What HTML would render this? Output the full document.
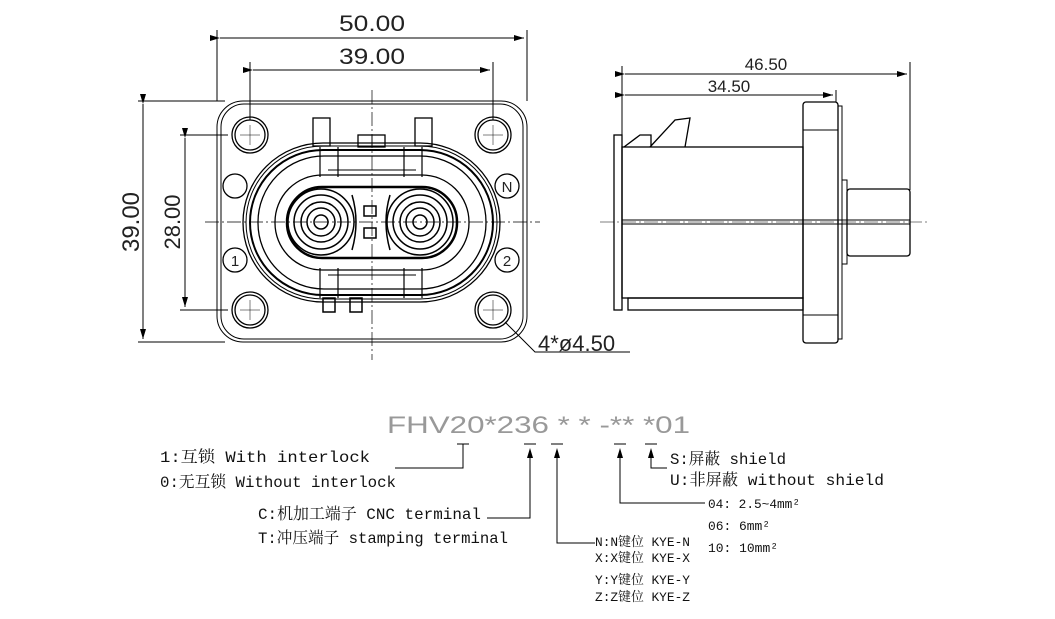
<!DOCTYPE html>
<html><head><meta charset="utf-8"><style>
html,body{margin:0;padding:0;background:#fff;}
svg{display:block}
.t{font-family:"Liberation Mono","Noto Serif CJK SC",monospace;fill:#111}
.d{font-family:"Liberation Sans",sans-serif;fill:#222}
</style></head><body>
<svg width="1055" height="619" viewBox="0 0 1055 619" xmlns="http://www.w3.org/2000/svg">
<defs>
<marker id="a" markerWidth="10" markerHeight="6" refX="10" refY="3" orient="auto" markerUnits="userSpaceOnUse"><path d="M0,0 L10,3 L0,6z" fill="#000"/></marker>
</defs>
<g stroke="#000" fill="none" stroke-width="1">
<line x1="217" y1="30" x2="217" y2="101"/><line x1="527" y1="30" x2="527" y2="101"/>
<line x1="220" y1="38" x2="524" y2="38" marker-start="url(#a)" marker-end="url(#a)"/>
<line x1="250" y1="62" x2="250" y2="120"/><line x1="493" y1="62" x2="493" y2="120"/>
<line x1="253" y1="70" x2="490" y2="70" marker-start="url(#a)" marker-end="url(#a)"/>
<line x1="138" y1="101" x2="225" y2="101"/><line x1="138" y1="342" x2="225" y2="342"/>
<line x1="143" y1="104" x2="143" y2="339" marker-start="url(#a)" marker-end="url(#a)"/>
<line x1="180" y1="135" x2="228" y2="135"/><line x1="180" y1="310" x2="228" y2="310"/>
<line x1="185" y1="138" x2="185" y2="307" marker-start="url(#a)" marker-end="url(#a)"/>
<rect x="217" y="101" width="310" height="241" rx="26"/>
<rect x="221" y="104" width="302" height="235" rx="23"/>
<line x1="205" y1="222" x2="540" y2="222" stroke-dasharray="14,3,2,3" stroke-width="0.7"/>
<line x1="372" y1="90" x2="372" y2="360" stroke-dasharray="14,3,2,3" stroke-width="0.7"/>
<g stroke-width="1.3">
<circle cx="250" cy="135" r="18"/><circle cx="250" cy="135" r="15"/>
<circle cx="493" cy="135" r="18"/><circle cx="493" cy="135" r="15"/>
<circle cx="250" cy="310" r="18"/><circle cx="250" cy="310" r="15"/>
<circle cx="493" cy="310" r="18"/><circle cx="493" cy="310" r="15"/>
</g>
<g stroke-width="0.5"><path d="M240 135h20M250 125v20M483 135h20M493 125v20M240 310h20M250 300v20M483 310h20M493 300v20"/></g>
<circle cx="235" cy="186" r="12" stroke-width="1.3"/>
<circle cx="507" cy="186" r="12" stroke-width="1.3"/>
<circle cx="235" cy="260" r="12" stroke-width="1.3"/>
<circle cx="507" cy="260" r="12" stroke-width="1.3"/>
<rect x="313" y="118" width="17" height="28" stroke-width="1.3"/>
<rect x="415" y="118" width="17" height="28" stroke-width="1.3"/>
<rect x="358" y="135" width="27" height="12" stroke-width="1.3"/>
<line x1="372" y1="135" x2="372" y2="147"/>
<rect x="323" y="298" width="12" height="14" stroke-width="1.5"/>
<rect x="350" y="298" width="12" height="14" stroke-width="1.5"/>
<rect x="243" y="143" width="257" height="159" rx="80" stroke-width="1.3"/>
<rect x="246" y="146" width="251" height="153" rx="77"/>
<rect x="250" y="150" width="243" height="145" rx="73" stroke-width="2"/>
<rect x="258" y="156" width="228" height="133" rx="66" stroke-width="1.3"/>
<rect x="275" y="175" width="194" height="95" rx="47" stroke-width="1.3"/>
<rect x="287" y="187" width="170" height="71" rx="35" stroke-width="2.5"/>
<path d="M320 147v30M338 147v30M404 147v30M422 147v30M320 268v30M338 268v30M404 268v30M422 268v30" stroke-width="1.2"/>
<path d="M320 150h102M320 295h102M328 170h88M328 275h88"/>
<g stroke-width="1.5">
<circle cx="321" cy="222" r="33"/><circle cx="321" cy="222" r="27"/><circle cx="321" cy="222" r="20"/><circle cx="321" cy="222" r="14"/><circle cx="321" cy="222" r="7"/>
<circle cx="420" cy="222" r="33"/><circle cx="420" cy="222" r="27"/><circle cx="420" cy="222" r="20"/><circle cx="420" cy="222" r="14"/><circle cx="420" cy="222" r="7"/>
</g>
<path d="M352 195 q8 27 0 55 M390 195 q-8 27 0 55" stroke-width="1.5"/>
<rect x="364" y="206" width="12" height="10" stroke-width="1.5"/>
<rect x="364" y="228" width="12" height="10" stroke-width="1.5"/>
<path d="M505 322 L535 352 L630 352"/>
<line x1="622" y1="66" x2="622" y2="140"/><line x1="910" y1="62" x2="910" y2="190"/>
<line x1="625" y1="74" x2="907" y2="74" marker-start="url(#a)" marker-end="url(#a)"/>
<line x1="836" y1="90" x2="836" y2="102"/>
<line x1="625" y1="95" x2="833" y2="95" marker-start="url(#a)" marker-end="url(#a)"/>
<rect x="614" y="135" width="8" height="175" stroke-width="1.3"/>
<rect x="622" y="147" width="181" height="151" stroke-width="1.3"/>
<rect x="628" y="298" width="175" height="12" stroke-width="1.3"/>
<rect x="803" y="102" width="35" height="241" rx="3" stroke-width="1.3"/>
<line x1="803" y1="130" x2="838" y2="130"/><line x1="803" y1="315" x2="838" y2="315"/>
<rect x="838" y="106" width="4" height="233"/>
<rect x="842" y="180" width="5" height="84"/>
<rect x="847" y="189" width="63" height="67" rx="3" stroke-width="1.3"/>
<path d="M622 220h288M622 224h288" stroke-width="1"/>
<line x1="600" y1="222" x2="930" y2="222" stroke-dasharray="14,3,2,3" stroke-width="0.6"/>
<path d="M624 147 L640 135 L651 135 L651 147 M650 147 L675 120 L690 118 L685 147" stroke-width="1.3"/>
<path d="M457 444h12M463 444v24H395"/>
<path d="M524 444h12M551 444h12M614 444h12M645 444h12"/>
<path d="M530 450v68H487"/>
<path d="M557 450v93h38"/>
<path d="M620 450v53h85"/>
<path d="M651 450v18h16"/>
</g>
<g fill="#000">
<path d="M527 458l3-10 3 10z"/><path d="M554 458l3-10 3 10z"/><path d="M617 458l3-10 3 10z"/><path d="M648 458l3-10 3 10z"/>
</g>
<g class="d" font-size="22">
<text x="372" y="31" text-anchor="middle" textLength="66" lengthAdjust="spacingAndGlyphs">50.00</text>
<text x="372" y="64" text-anchor="middle" textLength="66" lengthAdjust="spacingAndGlyphs">39.00</text>
<text transform="translate(139,222) rotate(-90)" text-anchor="middle" font-size="24">39.00</text>
<text transform="translate(180,222) rotate(-90)" text-anchor="middle">28.00</text>
<text x="538" y="351">4*ø4.50</text>
</g>
<g class="d" font-size="17" fill="#444">
<text x="766" y="70" text-anchor="middle">46.50</text>
<text x="729" y="92" text-anchor="middle">34.50</text>
</g>
<g class="d" font-size="15">
<text x="235" y="266" text-anchor="middle">1</text>
<text x="507" y="266" text-anchor="middle">2</text>
<text x="507" y="192" text-anchor="middle">N</text>
</g>
<text x="387" y="433" class="d" font-size="24" style="fill:#999" textLength="303" lengthAdjust="spacingAndGlyphs">FHV20*236 * *  -** *01</text>
<g class="t" font-size="16">
<text x="160" y="462" textLength="210" lengthAdjust="spacingAndGlyphs">1:互锁 With interlock</text>
<text x="160" y="487" textLength="236" lengthAdjust="spacingAndGlyphs">0:无互锁 Without interlock</text>
<text x="258" y="519" textLength="223" lengthAdjust="spacingAndGlyphs">C:机加工端子 CNC terminal</text>
<text x="258" y="543" textLength="250" lengthAdjust="spacingAndGlyphs">T:冲压端子 stamping terminal</text>
<text x="670" y="464" textLength="116" lengthAdjust="spacingAndGlyphs">S:屏蔽 shield</text>
<text x="670" y="485" textLength="214" lengthAdjust="spacingAndGlyphs">U:非屏蔽  without shield</text>
</g>
<g class="t" font-size="13">
<text x="595" y="546" textLength="95" lengthAdjust="spacingAndGlyphs">N:N键位 KYE-N</text>
<text x="595" y="562" textLength="95" lengthAdjust="spacingAndGlyphs">X:X键位 KYE-X</text>
<text x="595" y="584" textLength="95" lengthAdjust="spacingAndGlyphs">Y:Y键位 KYE-Y</text>
<text x="595" y="601" textLength="95" lengthAdjust="spacingAndGlyphs">Z:Z键位 KYE-Z</text>
<text x="708" y="508" textLength="92" lengthAdjust="spacingAndGlyphs">04: 2.5~4mm²</text>
<text x="708" y="530" textLength="62" lengthAdjust="spacingAndGlyphs">06: 6mm²</text>
<text x="708" y="552" textLength="70" lengthAdjust="spacingAndGlyphs">10: 10mm²</text>
</g>
</svg>
</body></html>
